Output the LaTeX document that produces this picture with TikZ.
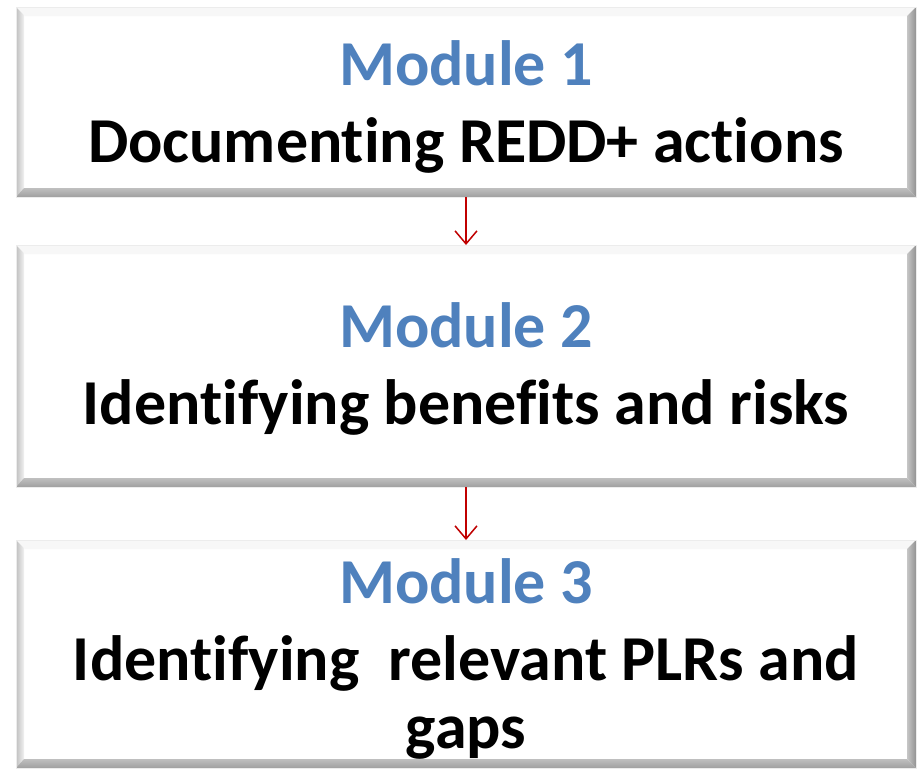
\documentclass[tikz,border=0pt]{standalone}
\usepackage{fontspec}
\setmainfont{Carlito}[Ligatures={NoCommon,NoContextual}]
\usetikzlibrary{arrows.meta,calc}
\definecolor{modblue}{HTML}{4F81BD}
\definecolor{arrred}{HTML}{C00000}
\tikzset{
  panel/.style={draw=none, fill=white, minimum width=900pt, inner sep=0pt, outer sep=0pt},
  modtitle/.style={font=\bfseries\fontsize{64}{77}\selectfont, text=modblue, anchor=base, inner sep=0pt},
  modtext/.style={font=\bfseries\fontsize{64}{77}\selectfont, text=black, anchor=base, inner sep=0pt},
  flow/.style={draw=arrred, line width=1.5pt, -{Straight Barb[length=13pt,width=22pt,line width=1.5pt]}},
}
\newcommand{\bevelbox}[1]{%
  \fill[gray!6] (#1.north west) -- (#1.north east) -- ($(#1.north east)+(-9,9)$) -- ($(#1.north west)+(9,9)$) -- cycle;
  \shade[left color=gray!50, right color=gray!10] (#1.north west) -- ($(#1.north west)+(8,8)$) -- ($(#1.south west)+(8,-9)$) -- (#1.south west) -- cycle;
  \shade[top color=gray!50, bottom color=gray!75] (#1.south west) -- ($(#1.south west)+(8,-9)$) -- ($(#1.south east)+(-9,-9)$) -- (#1.south east) -- cycle;
  \shade[left color=gray!45, right color=gray!85] (#1.south east) -- ($(#1.south east)+(-9,-9)$) -- ($(#1.north east)+(-9,9)$) -- (#1.north east) -- cycle;
  \draw[gray!15, line width=0.6pt] (#1.north west) rectangle (#1.south east);
}
\begin{document}
\begin{tikzpicture}[x=1pt, y=-1pt]
\useasboundingbox[fill=white] (0,0) rectangle (917,772);
% boxes
\node[panel, minimum height=190pt] (b1) at (466,102) {};
\node[panel, minimum height=242pt] (b2) at (466,366) {};
\node[panel, minimum height=228pt] (b3) at (466,654) {};
\bevelbox{b1}
\bevelbox{b2}
\bevelbox{b3}
% texts
\node[modtitle] (t1) at (466,85) {Module 1};
\node[modtext] (d1) at (466,162) {Documenting REDD+ actions};
\node[modtitle] (t2) at (466,347) {Module 2};
\node[modtext] (d2) at (466,424) {Identifying benefits and risks};
\node[modtitle] (t3) at (466,603) {Module 3};
\node[modtext] (d3a) at (466,680) {Identifying\ \ relevant PLRs and};
\node[modtext] (d3b) at (466,748) {gaps};
% connectors
\draw[flow] (b1.south) -- (b2.north);
\draw[flow] (b2.south) -- (b3.north);
\end{tikzpicture}
\end{document}
